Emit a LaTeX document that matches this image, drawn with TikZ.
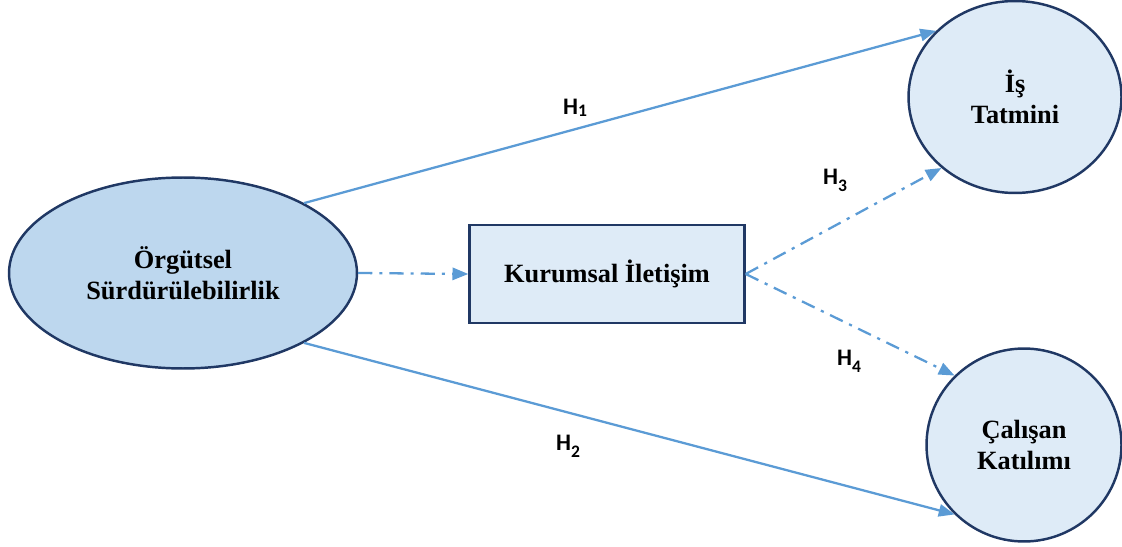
\documentclass[tikz,border=0pt]{standalone}
\usepackage{fontspec}
\setmainfont{Liberation Serif}
\newfontfamily\lblfont{Carlito}
\usepackage{xcolor}
\usetikzlibrary{positioning,shapes.geometric,arrows.meta}
\definecolor{edgeblue}{RGB}{91,155,213}
\definecolor{navy}{RGB}{32,56,100}
\definecolor{fillmid}{RGB}{189,215,238}
\definecolor{filllight}{RGB}{222,235,247}
\newcommand{\hyp}[2]{H\raisebox{#2}{\fontsize{10}{10}\selectfont #1}}
\tikzset{
  construct/.style = {ellipse, draw=navy, line width=1.4pt, align=center, inner sep=0pt,
                      font=\fontsize{15}{17.5}\selectfont\bfseries},
  mainvar/.style   = {construct, fill=fillmid},
  outvar/.style    = {construct, fill=filllight},
  medbox/.style    = {rectangle, draw=navy, line width=1.4pt, fill=filllight, inner sep=0pt,
                      font=\fontsize{15}{17.5}\selectfont\bfseries},
  direct/.style    = {-{Triangle[length=9pt,width=7pt]}, draw=edgeblue, line width=1.3pt},
  indirect/.style  = {direct, dash pattern=on 8pt off 4pt on 1.8pt off 4pt},
  hlbl/.style      = {font=\lblfont\fontsize{13.5}{15}\selectfont\bfseries, inner sep=0pt},
}
\begin{document}
\begin{tikzpicture}[x=0.02cm,y=-0.02cm]
  \useasboundingbox (0,0) rectangle (1122,547);

  % constructs
  \node[mainvar, minimum width=6.96cm, minimum height=3.82cm] (org) at (183,273) {Örgütsel\\Sürdürülebilirlik};
  \node[medbox, minimum width=5.5cm, minimum height=1.96cm] (kur) at (607,274) {Kurumsal İletişim};
  \node[outvar, minimum width=4.26cm, minimum height=3.84cm] (tat) at (1015,97) {İş\\Tatmini};
  \node[outvar, minimum width=3.9cm, minimum height=3.86cm] (cal) at (1024,445) {Çalışan\\Katılımı};

  % paths
  \draw[direct] (org.30) -- (tat.140);
  \draw[direct] (org.-30) -- (cal.-135);
  \draw[indirect] (org.east) -- (kur.west);
  \draw[indirect] (kur.east) -- (tat.224);
  \draw[indirect] (kur.east) -- (cal.135);

  % hypothesis labels
  \node[hlbl] (h1) at (575,108) {\hyp{1}{-0.2ex}};
  \node[hlbl] (h2) at (568,446) {\hyp{2}{-0.6ex}};
  \node[hlbl] (h3) at (835,180) {\hyp{3}{-0.6ex}};
  \node[hlbl] (h4) at (849,361) {\hyp{4}{-0.6ex}};
\end{tikzpicture}
\end{document}
